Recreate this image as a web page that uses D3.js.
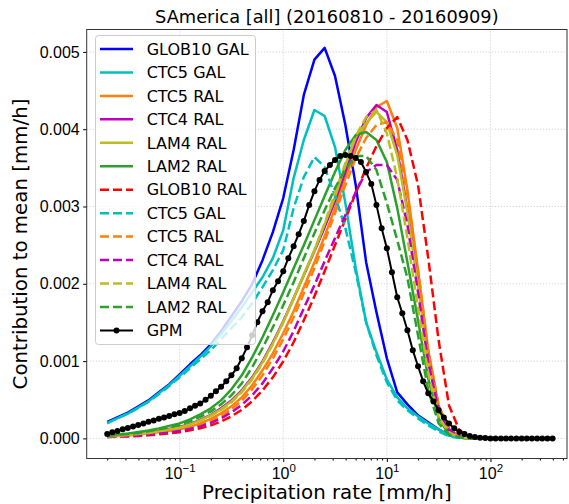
<!DOCTYPE html>
<html lang="en">
<head>
<meta charset="UTF-8">
<title>SAmerica [all] (20160810 - 20160909)</title>
<script src="https://d3js.org/d3.v7.min.js"></script>
<style>
  body { margin: 0; background: #fff; font-family: "DejaVu Sans", sans-serif; }
  svg { display: block; }
</style>
</head>
<body>
<div id="chart"></div>
<script>
// precipitation rate bins [mm/h]
const modelRates = [0.020, 0.025, 0.032, 0.040, 0.050, 0.063, 0.079, 0.100, 0.126, 0.158,
  0.200, 0.251, 0.316, 0.398, 0.501, 0.631, 0.794, 1.00, 1.26, 1.58,
  2.00, 2.51, 3.16, 3.98, 5.01, 6.31, 7.94, 10.0, 12.6, 15.8,
  20.0, 25.1, 31.6, 39.8, 50.1, 63.1, 79.4, 100];
const gpmRates = [0.0200, 0.0224, 0.0251, 0.0282, 0.0316, 0.0355, 0.0398, 0.0447, 0.0501, 0.0562,
  0.0631, 0.0708, 0.0794, 0.0891, 0.100, 0.112, 0.126, 0.141, 0.158, 0.178,
  0.200, 0.224, 0.251, 0.282, 0.316, 0.355, 0.398, 0.447, 0.501, 0.562,
  0.631, 0.708, 0.794, 0.891, 1.00, 1.12, 1.26, 1.41, 1.58, 1.78,
  2.00, 2.24, 2.51, 2.82, 3.16, 3.55, 3.98, 4.47, 5.01, 5.62,
  6.31, 7.08, 7.94, 8.91, 10.0, 11.2, 12.6, 14.1, 15.8, 17.8,
  20.0, 22.4, 25.1, 28.2, 31.6, 35.5, 39.8, 44.7, 50.1, 56.2,
  63.1, 70.8, 79.4, 89.1, 100, 112, 126, 141, 158, 178,
  200, 224, 251, 282, 316, 355, 398];

// contribution to mean, in units of 1e-3 mm/h
const glob10Gal = [0.214, 0.272, 0.337, 0.415, 0.492, 0.596, 0.699, 0.829, 0.959, 1.075,
  1.218, 1.386, 1.580, 1.775, 1.995, 2.306, 2.668, 3.109, 3.731, 4.443,
  4.900, 5.052, 4.689, 4.054, 3.277, 2.280, 1.632, 1.036, 0.596, 0.440,
  0.298, 0.207, 0.117, 0.039, 0.013, 0, 0, 0];
const ctc5Gal = [0.201, 0.259, 0.324, 0.402, 0.479, 0.583, 0.687, 0.810, 0.933, 1.056,
  1.192, 1.347, 1.516, 1.697, 1.891, 2.085, 2.332, 2.694, 3.368, 3.860,
  4.249, 4.171, 3.769, 3.044, 2.202, 1.503, 1.114, 0.764, 0.531, 0.389,
  0.285, 0.194, 0.117, 0.039, 0.013, 0, 0, 0];
const ctc5Ral = [0.026, 0.032, 0.039, 0.052, 0.065, 0.078, 0.097, 0.117, 0.149, 0.194,
  0.253, 0.324, 0.415, 0.531, 0.687, 0.881, 1.101, 1.360, 1.645, 1.956,
  2.280, 2.617, 2.979, 3.368, 3.731, 4.054, 4.287, 4.365, 4.015, 3.212,
  2.176, 1.140, 0.427, 0.117, 0.026, 0, 0, 0];
const ctc4Ral = [0.032, 0.039, 0.052, 0.065, 0.078, 0.097, 0.123, 0.149, 0.188, 0.240,
  0.304, 0.389, 0.492, 0.622, 0.790, 0.997, 1.244, 1.516, 1.813, 2.111,
  2.422, 2.733, 3.070, 3.446, 3.834, 4.145, 4.313, 4.223, 3.731, 2.953,
  2.008, 1.062, 0.389, 0.117, 0.026, 0, 0, 0];
const lam4Ral = [0.026, 0.032, 0.045, 0.058, 0.071, 0.091, 0.117, 0.142, 0.181, 0.233,
  0.298, 0.376, 0.479, 0.609, 0.777, 0.984, 1.231, 1.503, 1.813, 2.124,
  2.435, 2.772, 3.122, 3.536, 3.899, 4.080, 4.223, 4.093, 3.666, 2.927,
  1.982, 1.010, 0.363, 0.104, 0.026, 0, 0, 0];
const lam2Ral = [0.039, 0.052, 0.065, 0.084, 0.104, 0.130, 0.162, 0.194, 0.246, 0.311,
  0.389, 0.492, 0.635, 0.816, 1.049, 1.308, 1.593, 1.891, 2.202, 2.500,
  2.824, 3.135, 3.446, 3.731, 3.925, 3.964, 3.860, 3.575, 2.979, 2.280,
  1.528, 0.777, 0.259, 0.052, 0.013, 0, 0, 0];
const glob10RalB = [0.019, 0.022, 0.026, 0.032, 0.041, 0.052, 0.065, 0.080, 0.104, 0.130,
  0.168, 0.220, 0.285, 0.369, 0.479, 0.622, 0.790, 0.997, 1.244, 1.528,
  1.839, 2.163, 2.500, 2.837, 3.174, 3.497, 3.782, 4.015, 4.158, 3.860,
  3.277, 2.332, 1.269, 0.427, 0.104, 0.026, 0, 0];
const ctc5GalB = [0.194, 0.259, 0.324, 0.395, 0.473, 0.570, 0.674, 0.790, 0.907, 1.023,
  1.140, 1.282, 1.425, 1.567, 1.749, 1.956, 2.176, 2.435, 2.979, 3.381,
  3.640, 3.510, 3.135, 2.720, 2.150, 1.503, 1.075, 0.725, 0.492, 0.363,
  0.259, 0.168, 0.091, 0.026, 0.006, 0, 0, 0];
const ctc5RalB = [0.026, 0.032, 0.039, 0.045, 0.058, 0.071, 0.091, 0.110, 0.136, 0.175,
  0.227, 0.291, 0.376, 0.486, 0.635, 0.816, 1.036, 1.282, 1.567, 1.878,
  2.202, 2.552, 2.914, 3.277, 3.627, 3.886, 4.054, 4.093, 3.860, 3.148,
  2.176, 1.140, 0.427, 0.117, 0.026, 0, 0, 0];
const ctc4RalB = [0.019, 0.026, 0.032, 0.039, 0.052, 0.065, 0.078, 0.097, 0.123, 0.155,
  0.201, 0.259, 0.337, 0.434, 0.557, 0.712, 0.907, 1.127, 1.386, 1.684,
  1.982, 2.293, 2.591, 2.889, 3.186, 3.446, 3.536, 3.536, 3.342, 2.759,
  1.891, 0.984, 0.363, 0.104, 0.026, 0, 0, 0];
const lam4RalB = [0.026, 0.032, 0.045, 0.058, 0.071, 0.091, 0.110, 0.136, 0.175, 0.227,
  0.291, 0.369, 0.466, 0.596, 0.764, 0.971, 1.218, 1.503, 1.800, 2.111,
  2.435, 2.785, 3.174, 3.562, 3.912, 4.158, 4.249, 3.951, 3.368, 2.591,
  1.684, 0.842, 0.272, 0.078, 0.013, 0, 0, 0];
const lam2RalB = [0.032, 0.045, 0.058, 0.071, 0.091, 0.117, 0.142, 0.175, 0.220, 0.278,
  0.350, 0.440, 0.557, 0.712, 0.920, 1.166, 1.438, 1.723, 2.021, 2.332,
  2.655, 2.953, 3.238, 3.484, 3.653, 3.653, 3.471, 3.044, 2.565, 2.073,
  1.334, 0.622, 0.194, 0.052, 0.013, 0, 0, 0];
const gpm = [0.058, 0.078, 0.097, 0.117, 0.136, 0.155, 0.175, 0.194, 0.214, 0.233,
  0.253, 0.272, 0.291, 0.311, 0.330, 0.356, 0.389, 0.421, 0.453, 0.499,
  0.551, 0.609, 0.667, 0.738, 0.816, 0.907, 1.036, 1.179, 1.334, 1.503,
  1.645, 1.762, 1.917, 2.034, 2.163, 2.332, 2.487, 2.642, 2.811, 3.018,
  3.199, 3.342, 3.459, 3.536, 3.601, 3.653, 3.666, 3.653, 3.627, 3.575,
  3.446, 3.290, 3.018, 2.720, 2.461, 2.150, 1.826, 1.619, 1.399, 1.140,
  0.933, 0.738, 0.583, 0.479, 0.363, 0.272, 0.194, 0.130, 0.084, 0.058,
  0.032, 0.019, 0.009, 0.004, 0, 0, 0, 0, 0, 0,
  0, 0, 0, 0, 0, 0, 0];

const yTicks = [0, 0.001, 0.002, 0.003, 0.004, 0.005];
const xTicks = [0.1, 1, 10, 100];
const xTickExp = ['\u22121', '0', '1', '2'];

const series = [
  { label: 'GLOB10 GAL', rates: modelRates, values: glob10Gal, color: '#0000ff', dash: null },
  { label: 'CTC5 GAL', rates: modelRates, values: ctc5Gal, color: '#00bfbf', dash: null },
  { label: 'CTC5 RAL', rates: modelRates, values: ctc5Ral, color: '#ff7f0e', dash: null },
  { label: 'CTC4 RAL', rates: modelRates, values: ctc4Ral, color: '#bf00bf', dash: null },
  { label: 'LAM4 RAL', rates: modelRates, values: lam4Ral, color: '#bcbd22', dash: null },
  { label: 'LAM2 RAL', rates: modelRates, values: lam2Ral, color: '#2ca02c', dash: null },
  { label: 'GLOB10 RAL', rates: modelRates, values: glob10RalB, color: '#ff0000', dash: '9,4' },
  { label: 'CTC5 GAL', rates: modelRates, values: ctc5GalB, color: '#00bfbf', dash: '9,4' },
  { label: 'CTC5 RAL', rates: modelRates, values: ctc5RalB, color: '#ff7f0e', dash: '9,4' },
  { label: 'CTC4 RAL', rates: modelRates, values: ctc4RalB, color: '#bf00bf', dash: '9,4' },
  { label: 'LAM4 RAL', rates: modelRates, values: lam4RalB, color: '#bcbd22', dash: '9,4' },
  { label: 'LAM2 RAL', rates: modelRates, values: lam2RalB, color: '#2ca02c', dash: '9,4' },
  { label: 'GPM', rates: gpmRates, values: gpm, color: '#000000', dash: null, marker: true }
];

const W = 569, H = 504;
const margin = { top: 29.5, right: 2, bottom: 45.5, left: 86.7 };
const x0 = margin.left, x1 = W - margin.right;
const y0 = H - margin.bottom, y1 = margin.top;

const svg = d3.select('#chart').append('svg')
  .attr('width', W).attr('height', H)
  .style('font-family', '"DejaVu Sans", sans-serif');

const x = d3.scaleLog().domain([0.01268, 548]).range([x0, x1]);
const y = d3.scaleLinear().domain([-0.00026, 0.00529]).range([y0, y1]);

// grid
const grid = svg.append('g').attr('stroke', '#c8c8c8').attr('stroke-width', 0.8)
  .attr('stroke-dasharray', '1.2,1.8');
grid.selectAll('line.gx').data(xTicks).join('line')
  .attr('x1', d => x(d)).attr('x2', d => x(d)).attr('y1', y0).attr('y2', y1);
grid.selectAll('line.gy').data(yTicks).join('line')
  .attr('y1', d => y(d)).attr('y2', d => y(d)).attr('x1', x0).attr('x2', x1);

// curves
const line = d3.line()
  .x(d => x(d[0]))
  .y(d => y(d[1] * 1e-3));

series.forEach(s => {
  const pts = s.values.map((v, i) => [s.rates[i], v]);
  svg.append('path')
    .datum(pts)
    .attr('d', line)
    .attr('fill', 'none')
    .attr('stroke', s.color)
    .attr('stroke-width', s.marker ? 2 : 2.5)
    .attr('stroke-linejoin', 'round')
    .attr('stroke-dasharray', s.dash);
  if (s.marker) {
    svg.append('g').selectAll('circle').data(pts).join('circle')
      .attr('cx', d => x(d[0])).attr('cy', d => y(d[1] * 1e-3))
      .attr('r', 3).attr('fill', s.color);
  }
});

// axes
const yAxis = svg.append('g').attr('transform', `translate(${x0},0)`)
  .call(d3.axisLeft(y).tickValues(yTicks).tickFormat(d3.format('.3f'))
    .tickSize(3.5).tickPadding(3.5));
yAxis.select('.domain').remove();
yAxis.selectAll('text').style('font-size', '16px').attr('fill', '#000');

const minor = [];
[0.01, 0.1, 1, 10, 100].forEach(dec => {
  for (let k = 2; k <= 9; k++) {
    const v = dec * k;
    if (v > x.domain()[0] && v < x.domain()[1]) minor.push(v);
  }
});
const xMinor = svg.append('g').attr('transform', `translate(0,${y0})`)
  .call(d3.axisBottom(x).tickValues(minor).tickFormat('').tickSize(2));
xMinor.select('.domain').remove();

const xAxis = svg.append('g').attr('transform', `translate(0,${y0})`)
  .call(d3.axisBottom(x).tickValues(xTicks).tickFormat('').tickSize(3.5));
xAxis.select('.domain').remove();
xAxis.selectAll('.tick').each(function(d, i) {
  const t = d3.select(this).append('text')
    .attr('y', 20).attr('fill', '#000').attr('text-anchor', 'middle')
    .style('font-size', '16px');
  t.append('tspan').text('10');
  t.append('tspan').attr('dy', '-6.5').style('font-size', '11.5px').text(xTickExp[i]);
});

svg.append('rect')
  .attr('x', x0).attr('y', y1).attr('width', x1 - x0).attr('height', y0 - y1)
  .attr('fill', 'none').attr('stroke', '#333').attr('stroke-width', 1);

// labels
svg.append('text')
  .attr('x', (x0 + x1) / 2).attr('y', 23)
  .attr('text-anchor', 'middle').style('font-size', '17.8px')
  .text('SAmerica [all] (20160810 - 20160909)');
svg.append('text')
  .attr('x', (x0 + x1) / 2).attr('y', 499)
  .attr('text-anchor', 'middle').style('font-size', '19.8px')
  .text('Precipitation rate [mm/h]');
svg.append('text')
  .attr('transform', `translate(27,${(y0 + y1) / 2}) rotate(-90)`)
  .attr('text-anchor', 'middle').style('font-size', '19.8px')
  .text('Contribution to mean [mm/h]');

// legend
const lg = svg.append('g');
lg.append('rect')
  .attr('x', 95.5).attr('y', 35.5).attr('width', 160).attr('height', 309).attr('rx', 3)
  .attr('fill', '#fff').attr('fill-opacity', 0.8)
  .attr('stroke', '#cccccc').attr('stroke-width', 1);
const items = lg.selectAll('g.item').data(series).join('g')
  .attr('class', 'item')
  .attr('transform', (d, i) => `translate(0,${49 + i * 23.45})`);
items.append('line')
  .attr('x1', 100).attr('x2', 133).attr('y1', 0).attr('y2', 0)
  .attr('stroke', d => d.color)
  .attr('stroke-width', d => d.marker ? 2 : 2.5)
  .attr('stroke-dasharray', d => d.dash);
items.filter(d => d.marker).append('circle')
  .attr('cx', 116.5).attr('cy', 0).attr('r', 3).attr('fill', d => d.color);
items.append('text')
  .attr('x', 146.7).attr('dy', '0.36em')
  .style('font-size', '16px')
  .text(d => d.label);
</script>
</body>
</html>
